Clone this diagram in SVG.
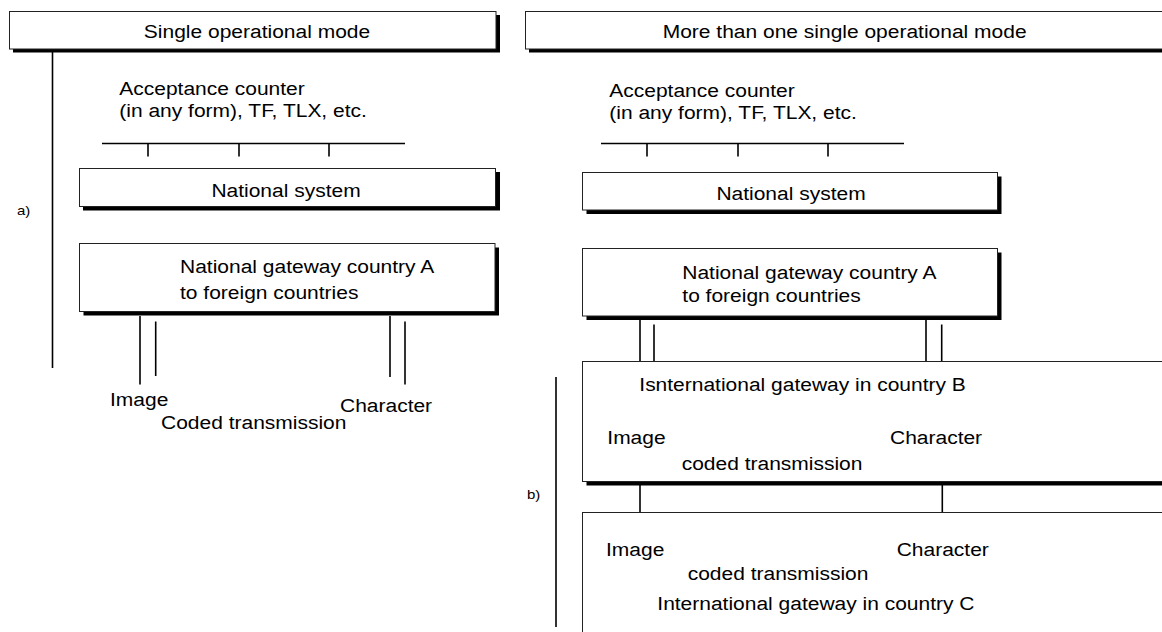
<svg xmlns="http://www.w3.org/2000/svg" width="1162" height="632" viewBox="0 0 1162 632">
<style>
.bg{fill:#fff}
.box{fill:#fff;stroke:#222;stroke-width:1}
.sh{fill:#000}
.ln{stroke:#000;stroke-width:1.6;fill:none}
.t{font-family:"Liberation Sans",Arial,sans-serif;font-size:21px;fill:#000}
.s{font-family:"Liberation Sans",Arial,sans-serif;font-size:15px;fill:#000}
</style>
<rect class="bg" x="0" y="0" width="1162" height="632"/>

<g id="connectors">
  <line class="ln" x1="52.5" y1="52" x2="52.5" y2="368"/>
  <line class="ln" x1="556" y1="377" x2="556" y2="627"/>
  <line class="ln" x1="102" y1="143.5" x2="405" y2="143.5"/>
  <line class="ln" x1="148" y1="143.5" x2="148" y2="156.5"/>
  <line class="ln" x1="239" y1="143.5" x2="239" y2="156.5"/>
  <line class="ln" x1="329" y1="143.5" x2="329" y2="156.5"/>
  <line class="ln" x1="601" y1="143.5" x2="904" y2="143.5"/>
  <line class="ln" x1="647" y1="143.5" x2="647" y2="156.5"/>
  <line class="ln" x1="738" y1="143.5" x2="738" y2="156.5"/>
  <line class="ln" x1="828" y1="143.5" x2="828" y2="156.5"/>
  <line class="ln" x1="140" y1="316" x2="140" y2="384.5"/>
  <line class="ln" x1="155.7" y1="321.5" x2="155.7" y2="376"/>
  <line class="ln" x1="390" y1="316" x2="390" y2="377"/>
  <line class="ln" x1="405" y1="321.5" x2="405" y2="384.5"/>
  <line class="ln" x1="640" y1="320" x2="640" y2="361.5"/>
  <line class="ln" x1="654" y1="324.5" x2="654" y2="361.5"/>
  <line class="ln" x1="926" y1="320" x2="926" y2="361.5"/>
  <line class="ln" x1="941.7" y1="324.5" x2="941.7" y2="361.5"/>
  <line class="ln" x1="640" y1="461.5" x2="640" y2="535.5"/>
  <line class="ln" x1="942.3" y1="461.5" x2="942.3" y2="535.5"/>
</g>

<g id="single-mode">
  <rect class="sh" x="13" y="15" width="487" height="37.5"/>
  <rect class="box" x="9.5" y="11.5" width="486.5" height="37.5"/>
  <text class="t" text-anchor="middle" transform="translate(257,38) scale(1,0.85)">Single operational mode</text>
</g>

<g id="multi-mode">
  <rect class="sh" x="529" y="15" width="650" height="37.5"/>
  <rect class="box" x="525.5" y="11.5" width="650" height="37.5"/>
  <text class="t" transform="translate(662.7,37.5) scale(1,0.85)">More than one single operational mode</text>
</g>

<g id="label-a">
  <text class="s" transform="translate(17,215) scale(1,0.85)">a)</text>
</g>

<g id="label-b">
  <text class="s" transform="translate(527,499) scale(1,0.85)">b)</text>
</g>

<g id="acceptance-a">
  <text class="t" transform="translate(119.3,95) scale(1,0.85)">Acceptance counter</text>
  <text class="t" transform="translate(119.3,117.3) scale(1,0.85)">(in any form), TF, TLX, etc.</text>
</g>

<g id="acceptance-b">
  <text class="t" transform="translate(609.3,96.5) scale(1,0.85)">Acceptance counter</text>
  <text class="t" transform="translate(609.3,119) scale(1,0.85)">(in any form), TF, TLX, etc.</text>
</g>

<g id="national-system-a">
  <rect class="sh" x="83" y="172" width="417" height="38.5"/>
  <rect class="box" x="79.5" y="168.5" width="416" height="38"/>
  <text class="t" text-anchor="middle" transform="translate(286,197) scale(1,0.85)">National system</text>
</g>

<g id="national-system-b">
  <rect class="sh" x="586.5" y="176.5" width="415" height="37.5"/>
  <rect class="box" x="582.5" y="172.5" width="415" height="37.5"/>
  <text class="t" text-anchor="middle" transform="translate(791,200) scale(1,0.85)">National system</text>
</g>

<g id="gateway-a-a">
  <rect class="sh" x="83.5" y="247.5" width="415.5" height="68"/>
  <rect class="box" x="79.5" y="243.5" width="415.5" height="68"/>
  <text class="t" transform="translate(180,273.3) scale(1,0.85)">National gateway country A</text>
  <text class="t" transform="translate(180,299) scale(1,0.85)">to foreign countries</text>
</g>

<g id="gateway-a-b">
  <rect class="sh" x="586.5" y="252.5" width="415" height="67.5"/>
  <rect class="box" x="582.5" y="248.5" width="415" height="67.5"/>
  <text class="t" transform="translate(682.3,279.3) scale(1,0.85)">National gateway country A</text>
  <text class="t" transform="translate(682.3,301.7) scale(1,0.85)">to foreign countries</text>
</g>

<g id="labels-a">
  <text class="t" transform="translate(110,405.7) scale(1,0.85)">Image</text>
  <text class="t" transform="translate(340,412.3) scale(1,0.85)">Character</text>
  <text class="t" transform="translate(161,429.3) scale(1,0.85)">Coded transmission</text>
</g>

<g id="gateway-b">
  <rect class="sh" x="586.5" y="365.5" width="600" height="120"/>
  <rect class="box" x="582.5" y="361.5" width="600" height="120"/>
  <text class="t" transform="translate(639.3,390.7) scale(1,0.85)">Isnternational gateway in country B</text>
  <text class="t" transform="translate(607.3,444.3) scale(1,0.85)">Image</text>
  <text class="t" transform="translate(890,444.3) scale(1,0.85)">Character</text>
  <text class="t" transform="translate(681.7,470.3) scale(1,0.85)">coded transmission</text>
</g>

<g id="gateway-c">
  <rect class="box" x="582.5" y="512.5" width="600" height="200"/>
  <text class="t" transform="translate(606,556) scale(1,0.85)">Image</text>
  <text class="t" transform="translate(896.7,556) scale(1,0.85)">Character</text>
  <text class="t" transform="translate(687.7,580.3) scale(1,0.85)">coded transmission</text>
  <text class="t" transform="translate(657.3,610.3) scale(1,0.85)">International gateway in country C</text>
</g>
</svg>
